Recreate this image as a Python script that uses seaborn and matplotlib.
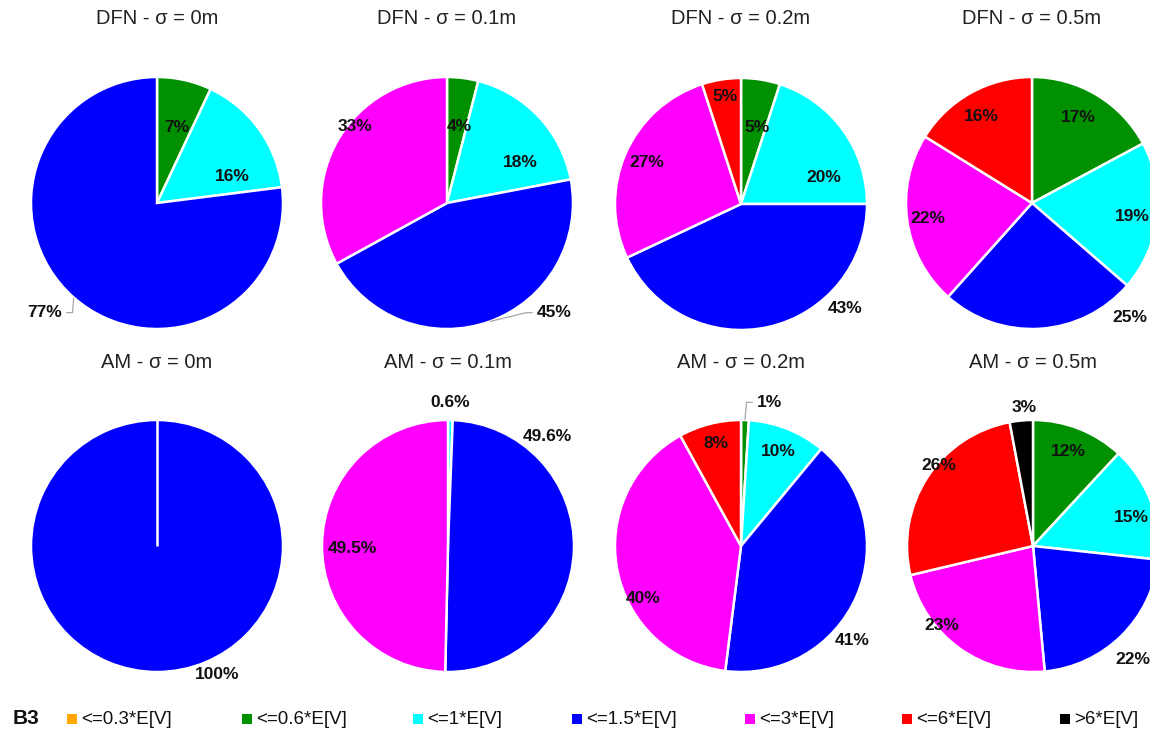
import numpy as np
import matplotlib
matplotlib.use("Agg")
import matplotlib.pyplot as plt
import seaborn as sns

sns.set_theme(style="white")
FONT = ["Liberation Sans Narrow", "Liberation Sans", "DejaVu Sans"]
plt.rcParams["font.family"] = FONT

# Classes of the vertical displacement ratio
categories = ["<=0.3*E[V]", "<=0.6*E[V]", "<=1*E[V]", "<=1.5*E[V]",
              "<=3*E[V]", "<=6*E[V]", ">6*E[V]"]
colors = ["#FFA500", "#009000", "#00FFFF", "#0000FF", "#FF00FF", "#FF0000", "#000000"]

titles = ["DFN - σ = 0m", "DFN - σ = 0.1m", "DFN - σ = 0.2m", "DFN - σ = 0.5m",
          "AM - σ = 0m", "AM - σ = 0.1m", "AM - σ = 0.2m", "AM - σ = 0.5m"]

# Percentage share of each class (%)
dfn_0 = [0, 7, 16, 77, 0, 0, 0]
dfn_01 = [0, 4, 18, 45, 33, 0, 0]
dfn_02 = [0, 5, 20, 43, 27, 5, 0]
dfn_05 = [0, 17, 19, 25, 22, 16, 0]
am_0 = [0, 0, 0, 100, 0, 0, 0]
am_01 = [0, 0, 0.6, 49.6, 49.5, 0, 0]
am_02 = [0, 1, 10, 41, 40, 8, 0]
am_05 = [0, 12, 15, 22, 23, 26, 3]
panels = [dfn_0, dfn_01, dfn_02, dfn_05, am_0, am_01, am_02, am_05]

# Label placement in units of pie radius (x right, y up), keyed by class index
label_pos = [
    {1: (0.16, 0.60), 2: (0.60, 0.21), 3: (-0.91, -0.87)},
    {1: (0.10, 0.61), 2: (0.58, 0.32), 3: (0.87, -0.87), 4: (-0.73, 0.61)},
    {1: (0.13, 0.61), 2: (0.66, 0.21), 3: (0.83, -0.83), 4: (-0.75, 0.33), 5: (-0.13, 0.85)},
    {1: (0.37, 0.68), 2: (0.80, -0.11), 3: (0.78, -0.91), 4: (-0.83, -0.12), 5: (-0.40, 0.69)},
    {3: (0.48, -1.02)},
    {2: (0.02, 1.14), 3: (0.79, 0.87), 4: (-0.76, -0.02)},
    {1: (0.23, 1.14), 2: (0.30, 0.75), 3: (0.88, -0.75), 4: (-0.78, -0.42), 5: (-0.20, 0.81)},
    {1: (0.28, 0.75), 2: (0.78, 0.23), 3: (0.79, -0.90), 4: (-0.72, -0.63), 5: (-0.75, 0.64), 6: (-0.07, 1.10)},
]
# Labels joined to their wedge by a leader line: (panel, class) -> side
leaders = {(0, 3): -1, (1, 3): 1, (6, 1): 1}

W, H = 1150, 735
fig = plt.figure(figsize=(W / 100, H / 100), dpi=100)
fig.patch.set_facecolor("white")

centers = [(157, 203), (447, 203), (741, 204), (1032, 203),
           (157, 546), (448, 546), (741, 546), (1033, 546)]
title_y = [18, 18, 18, 18, 362, 362, 362, 362]
R = 126
LBL = 12.5

for k, vals in enumerate(panels):
    cx, cy = centers[k]
    ax = fig.add_axes([(cx - R) / W, (H - cy - R) / H, 2 * R / W, 2 * R / H])
    idx = [i for i, v in enumerate(vals) if v > 0]
    v = [vals[i] for i in idx]
    ax.pie(v, colors=[colors[i] for i in idx], startangle=90, counterclock=False,
           radius=1.0, wedgeprops=dict(edgecolor="white", linewidth=1.8))
    if len(v) == 1:
        # a single full wedge still shows its start edge
        ax.plot([0, 0], [0, 1], color="white", lw=1.8, solid_capstyle="butt")
    ax.set_xlim(-1, 1)
    ax.set_ylim(-1, 1)
    ax.set_aspect("equal")
    ax.axis("off")
    fig.text(cx / W, 1 - title_y[k] / H, titles[k], ha="center", va="center",
             fontsize=14.5, color="#222222")

    total = sum(vals)
    cum = 0.0
    for i, val in enumerate(vals):
        if val <= 0:
            continue
        mid = (cum + val / 2) / total * 2 * np.pi
        cum += val
        lx, ly = label_pos[k][i]
        txt = f"{val:g}%"
        if (k, i) in leaders:
            side = leaders[(k, i)]
            ex, ey = np.sin(mid), np.cos(mid)
            ha = "right" if side < 0 else "left"
            tx = lx + 0.16 * (1 if side < 0 else -1) * (len(txt) / 3)
            ax.text(tx, ly, txt, ha=ha, va="center", fontsize=LBL,
                    fontweight="bold", color="#111111", clip_on=False)
            sx = tx + 0.03 * (1 if side < 0 else -1)
            ax.plot([sx, sx + 0.05 * (1 if side < 0 else -1), ex],
                    [ly, ly, ey], color="#A6A6A6", lw=0.9, clip_on=False,
                    solid_capstyle="butt")
        else:
            ax.text(lx, ly, txt, ha="center", va="center", fontsize=LBL,
                    fontweight="bold", color="#111111", clip_on=False)

# Legend row
lax = fig.add_axes([0, 0, 1, 1], facecolor="none")
lax.set_xlim(0, W)
lax.set_ylim(H, 0)
lax.axis("off")
lax.text(13, 719, "B3", fontsize=15, fontweight="bold", va="center", ha="left", color="#111111")
leg_x = [72, 247, 418, 577, 750, 907, 1065]
lax.scatter(leg_x, [719] * len(leg_x), marker="s", s=50, c=colors, linewidths=0)
for x, lab in zip(leg_x, categories):
    lax.text(x + 9, 719, lab, fontsize=13.5, va="center", ha="left", color="#111111")

fig.savefig("out.png", dpi=100, facecolor="white")
